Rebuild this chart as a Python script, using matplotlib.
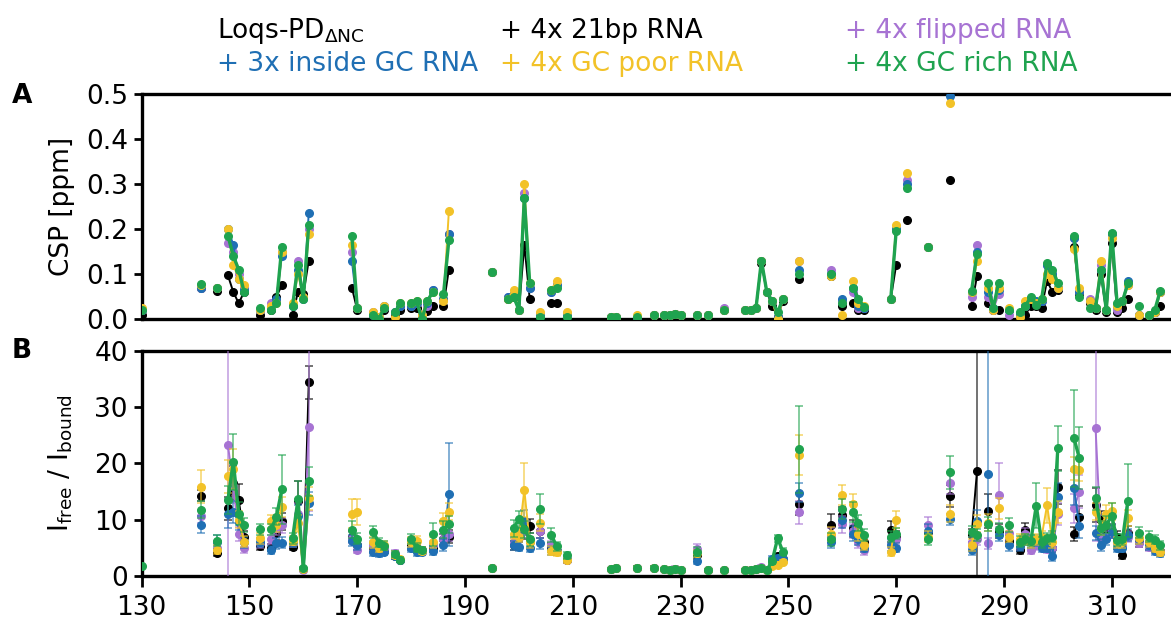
import numpy as np
import matplotlib
matplotlib.use("Agg")
import matplotlib.pyplot as plt
from matplotlib.colors import to_rgba

nan = np.nan

# Series names and colours (black, purple, blue, yellow, green)
names = ["+ 4x 21bp RNA", "+ 4x flipped RNA", "+ 3x inside GC RNA",
         "+ 4x GC poor RNA", "+ 4x GC rich RNA"]
colors = ["#000000", "#a773d3", "#1f6fb4", "#f2c228", "#1fa34f"]

# Panel A: chemical shift perturbation per residue
csp_res = [130, 141, 144, 146, 147, 148, 149, 152, 154, 155,
           156, 158, 159, 160, 161, 169, 170, 173, 174, 175,
           177, 178, 180, 181, 182, 183, 184, 186, 187, 195,
           198, 199, 200, 201, 202, 204, 206, 207, 209, 217,
           218, 222, 225, 227, 228, 229, 230, 233, 235, 238,
           242, 243, 244, 245, 246, 247, 248, 249, 252, 258,
           260, 262, 263, 264, 269, 270, 272, 276, 280, 284,
           285, 287, 288, 289, 291, 293, 294, 295, 296, 297,
           298, 299, 300, 303, 304, 306, 307, 308, 309, 310,
           311, 312, 313, 315, 317, 318, 319]

csp_black = [.010, .070, .062, .097, .060, .035, .060, .010, .020, .050,
             .075, .010, .060, .055, .130, .070, .020, .010, .000, .020,
             .010, .020, .025, .025, .005, .018, .030, .030, .110, .105,
             .045, .050, .020, .165, .045, .010, .035, .035, .005, .005,
             .005, .005, .010, .010, .010, .012, .010, .010, .010, .020,
             .020, .020, .025, .125, .060, .030, .005, .040, .090, .095,
             .030, .036, .020, .020, .045, .120, .220, .160, .310, .030,
             .095, .036, .020, .020, .020, .010, .010, .030, .030, .025,
             .085, .060, .065, .160, .055, .035, .020, .100, .015, .170,
             .015, .025, .045, .005, .005, .015, .030]
csp_purple = [.020, .070, .068, .170, .150, .100, .070, .020, .035, .040,
              .150, .030, .130, .050, .200, .150, .025, .015, .005, .025,
              .015, .030, .030, .035, .010, .030, .065, .045, .190, .105,
              .050, .055, .020, .280, .070, .010, .060, .075, .010, .005,
              .005, .005, .010, .010, .010, .012, .010, .010, .010, .025,
              .020, .020, .025, .130, .060, .040, .005, .045, .130, .110,
              .040, .060, .025, .025, .045, .200, .310, .160, nan, .050,
              .165, .050, .020, .055, .010, .010, .030, .045, .035, .040,
              .120, .100, .070, .180, .060, .045, .025, .120, .020, .190,
              .020, .040, .075, .010, .010, .015, .060]
csp_blue = [.020, .068, .068, .200, .165, .090, .065, .020, .025, .045,
            .140, .030, .110, .045, .235, .130, .025, .010, .005, .030,
            .015, .030, .030, .035, .010, .035, .065, .045, .190, .105,
            .050, .055, .020, .270, .070, .010, .060, .075, .010, .005,
            .005, .005, .010, .010, .010, .012, .010, .010, .010, .020,
            .020, .020, .025, .130, .060, .040, .005, .045, .110, .100,
            .045, .070, .030, .025, .045, .200, .300, .160, .495, .060,
            .150, .060, .025, .065, .020, .010, .030, .045, .040, .040,
            .120, .100, .070, .180, .060, .040, .025, .110, .020, .190,
            .030, .040, .085, .010, .010, .015, .060]
csp_yellow = [.025, .075, .070, .200, .120, .090, .075, .020, .030, .035,
              .150, .035, .100, .050, .190, .165, .025, .015, .005, .030,
              .005, .035, .035, .040, .010, .040, .060, .040, .240, .105,
              .045, .065, .020, .300, .080, .015, .065, .085, .015, .005,
              .005, .010, .010, .010, .010, .012, .010, .010, .010, .020,
              .020, .020, .025, .130, .060, .040, .000, .045, .130, .095,
              .010, .085, .035, .030, .045, .210, .325, .160, .480, .060,
              .130, .070, .020, .070, .025, .005, .040, .045, .035, .045,
              .100, .090, .070, .155, .070, .040, .025, .130, .020, .180,
              .030, .040, .075, .010, .010, .015, .060]
csp_green = [.020, .077, .070, .185, .140, .110, .060, .025, .020, .035,
             .160, .030, .120, .045, .210, .185, .025, .010, .000, .025,
             .015, .035, .035, .040, .000, .040, .060, .055, .175, .105,
             .045, .050, .020, .270, .080, .005, .065, .070, .005, .005,
             .005, .005, .010, .010, .010, .012, .010, .010, .010, .020,
             .020, .020, .025, .130, .060, .040, .015, .045, .100, .100,
             .035, .070, .045, .027, .045, .195, .292, .160, nan, .063,
             .145, .080, .024, .080, .020, .015, .029, .050, .031, .045,
             .125, .110, .080, .185, .050, .025, .025, .110, .020, .192,
             .035, .040, .079, .030, .010, .020, .063]

# Panel B: intensity ratio I_free / I_bound per residue
int_res = [130, 141, 144, 146, 147, 148, 149, 152, 154, 155,
           156, 158, 159, 160, 161, 169, 170, 173, 174, 175,
           177, 178, 180, 181, 182, 184, 186, 187, 195, 199,
           200, 201, 202, 204, 206, 207, 209, 217, 218, 222,
           225, 227, 228, 229, 230, 233, 235, 238, 242, 243,
           244, 245, 246, 247, 248, 249, 252, 258, 260, 262,
           263, 264, 269, 270, 276, 280, 284, 285, 287, 289,
           291, 293, 294, 295, 296, 297, 298, 299, 300, 303,
           304, 307, 308, 309, 310, 311, 312, 313, 315, 317,
           318, 319]

ratio_black = [nan, 14.3, 4.0, 12.0, 16.5, 13.5, 7.0, 5.3, 5.0, 7.6,
               9.7, 5.2, 13.4, 1.2, 34.4, 7.0, 5.5, 5.0, 4.5, 4.5,
               3.6, 2.8, 5.5, 5.0, 4.6, 5.0, 6.5, 7.0, 1.4, 5.5,
               7.0, 8.0, 8.9, 8.0, 5.0, 4.5, 2.8, 1.2, 1.5, 1.5,
               1.5, 1.3, 1.1, 1.2, 1.0, 3.8, 1.0, 1.1, 1.1, 1.1,
               1.2, 1.4, 1.0, 2.0, 3.5, 3.0, 12.8, 9.1, 10.8, 8.5,
               7.5, 6.0, 8.2, 7.0, 7.8, 14.2, 7.2, 18.6, 11.6, 8.0,
               6.3, 4.7, 8.2, 6.0, 6.0, 6.0, 6.0, 5.0, 15.8, 7.5,
               10.5, 12.6, 10.0, 8.0, 8.0, 7.0, 3.7, 7.7, 6.0, 5.5,
               5.0, 4.5]
ratio_purple = [nan, 10.6, 5.0, 23.3, 16.0, 7.5, 4.9, 5.8, 6.5, 8.5,
                9.0, 6.0, 11.0, 1.0, 26.5, 6.8, 4.7, 5.5, 4.5, 4.8,
                4.0, 2.8, 6.0, 5.0, 4.6, 5.5, 6.5, 7.5, 1.4, 6.0,
                7.0, 8.0, 6.0, 8.0, 5.5, 4.5, 2.8, 1.2, 1.5, 1.5,
                1.5, 1.3, 1.1, 1.2, 1.0, 4.8, 1.0, 1.1, 1.1, 1.1,
                1.2, 1.6, 1.0, 2.2, 3.0, 3.0, 11.3, 7.0, 9.2, 8.0,
                6.0, 4.6, 6.0, 6.5, 9.1, 16.5, 6.0, 6.5, 5.8, 14.4,
                7.6, 5.5, 7.5, 4.7, 5.5, 5.5, 4.8, 5.0, 11.0, 12.0,
                15.0, 26.3, 6.5, 7.0, 8.0, 5.8, 5.5, 7.0, 5.9, 5.2,
                4.8, 4.3]
ratio_blue = [nan, 9.1, 6.0, 11.1, 11.4, 9.6, 6.0, 6.0, 4.6, 5.8,
              5.9, 6.0, 10.7, 1.2, 12.9, 6.3, 5.5, 4.3, 4.0, 4.3,
              3.5, 2.8, 5.0, 4.3, 4.3, 4.5, 5.5, 14.5, 1.4, 5.5,
              5.2, 9.8, 5.0, 5.8, 4.6, 4.5, 3.0, 1.2, 1.5, 1.5,
              1.5, 1.3, 1.1, 1.2, 1.0, 2.7, 1.0, 1.1, 1.1, 1.1,
              1.2, 1.4, 1.0, 3.0, 3.2, 3.0, 14.8, 6.0, 10.0, 7.5,
              6.5, 5.0, 5.5, 5.0, 8.0, 10.1, 4.6, 9.7, 18.1, 7.3,
              5.5, 5.3, 6.5, 6.0, 6.3, 5.0, 5.0, 3.5, 14.1, 15.6,
              8.8, 7.6, 5.5, 6.5, 7.9, 5.0, 5.0, 7.3, 6.5, 5.5,
              4.5, 4.0]
ratio_yellow = [nan, 15.9, 4.7, 17.7, 19.0, 10.0, 6.1, 6.7, 9.7, 9.0,
                12.3, 6.3, 9.4, 1.2, 13.8, 11.1, 11.4, 6.0, 5.0, 5.5,
                3.8, 3.0, 6.0, 6.2, 4.5, 6.0, 9.7, 11.4, 1.4, 7.5,
                7.0, 15.3, 6.0, 9.5, 4.5, 4.3, 2.8, 1.2, 1.5, 1.5,
                1.5, 1.3, 1.1, 1.2, 1.0, 4.0, 1.0, 1.1, 1.1, 1.1,
                1.2, 1.4, 1.0, 1.8, 2.0, 2.5, 21.5, 7.5, 14.4, 12.8,
                7.5, 5.5, 4.3, 10.0, 7.0, 11.1, 5.5, 9.3, 9.5, 12.0,
                7.0, 6.5, 6.5, 6.0, 6.5, 7.0, 12.6, 6.0, 11.4, 19.1,
                18.8, 11.4, 8.5, 11.1, 11.5, 6.0, 6.0, 10.3, 6.7, 6.1,
                4.9, 4.3]
ratio_green = [1.8, 11.8, 6.3, 13.5, 20.3, 11.1, 9.1, 8.3, 8.3, 10.5,
               15.4, 6.7, 13.6, 1.4, 16.8, 8.2, 6.6, 7.8, 5.9, 5.4,
               3.9, 2.9, 6.6, 5.0, 4.6, 7.4, 8.2, 9.2, 1.4, 8.5,
               10.1, 8.3, 6.5, 11.9, 7.3, 5.3, 3.7, 1.2, 1.5, 1.5,
               1.5, 1.3, 1.1, 1.2, 1.0, 4.3, 1.0, 1.1, 1.1, 1.1,
               1.2, 1.4, 1.0, 2.7, 6.7, 4.3, 22.5, 6.5, 11.9, 11.4,
               9.4, 7.3, 7.0, 7.5, 6.5, 18.4, 7.9, 7.3, 9.2, 8.3,
               9.1, 6.1, 6.5, 6.3, 12.5, 6.0, 6.7, 7.0, 22.7, 24.5,
               20.9, 13.8, 8.5, 9.1, 10.7, 6.4, 6.5, 13.4, 7.7, 7.0,
               6.4, 5.5]

# Error bars of the intensity ratios
err_black = [nan, 1.0, 0.5, 2.0, 3.0, 2.8, 1.0, 0.6, 0.6, 1.2,
             1.5, 0.6, 3.5, 0.3, 3.0, 1.0, 0.8, 0.7, 0.6, 0.6,
             0.5, 0.4, 0.8, 0.7, 0.6, 0.8, 1.0, 1.2, 0.2, 0.8,
             1.0, 1.5, 1.2, 1.2, 0.8, 0.7, 0.5, 0.2, 0.2, 0.2,
             0.2, 0.2, 0.2, 0.2, 0.2, 0.8, 0.2, 0.2, 0.2, 0.2,
             0.2, 0.2, 0.2, 0.4, 0.6, 0.5, 2.0, 2.0, 1.5, 1.5,
             1.2, 1.0, 1.5, 1.0, 1.2, 2.0, 1.2, 30.0, 3.0, 1.2,
             1.0, 0.8, 1.2, 1.0, 1.0, 1.0, 1.0, 0.8, 3.0, 1.2,
             2.0, 3.0, 1.5, 1.2, 1.2, 1.0, 0.6, 1.2, 0.8, 0.8,
             0.7, 0.7]
err_purple = [nan, 1.2, 0.6, 25.0, 3.0, 1.2, 0.8, 0.8, 0.8, 1.2,
              1.3, 0.8, 2.0, 0.2, 15.0, 1.0, 0.7, 0.8, 0.6, 0.7,
              0.6, 0.4, 0.8, 0.7, 0.6, 0.8, 1.0, 1.2, 0.2, 0.8,
              1.0, 1.2, 1.0, 1.2, 0.8, 0.7, 0.5, 0.2, 0.2, 0.2,
              0.2, 0.2, 0.2, 0.6, 0.2, 0.8, 0.2, 0.2, 0.2, 0.2,
              0.2, 0.3, 0.2, 0.4, 0.5, 0.5, 2.0, 1.5, 1.5, 1.3,
              1.0, 0.8, 1.0, 1.0, 1.3, 2.0, 1.0, 1.0, 1.0, 5.7,
              1.2, 0.8, 1.0, 0.8, 0.8, 0.8, 0.8, 0.8, 2.0, 2.5,
              3.0, 20.0, 1.0, 1.0, 1.2, 1.0, 0.8, 1.0, 0.8, 0.8,
              0.7, 0.7]
err_blue = [nan, 1.5, 1.2, 2.5, 2.0, 1.5, 1.0, 0.8, 0.7, 1.0,
            1.0, 0.8, 2.0, 0.2, 2.0, 1.0, 0.8, 0.7, 0.6, 0.6,
            0.5, 0.4, 0.8, 0.7, 0.6, 0.8, 1.0, 9.2, 0.2, 0.8,
            0.8, 2.0, 0.8, 1.0, 0.8, 0.7, 0.5, 0.2, 0.2, 0.2,
            0.2, 0.2, 0.2, 0.2, 0.2, 0.6, 0.2, 0.2, 0.2, 0.2,
            0.2, 0.2, 0.2, 0.5, 0.5, 0.5, 1.7, 1.0, 1.5, 1.3,
            1.0, 0.8, 1.0, 0.8, 1.2, 1.0, 0.8, 2.0, 25.0, 1.0,
            1.0, 0.8, 1.0, 1.0, 1.0, 0.8, 0.8, 0.8, 2.5, 3.0,
            2.0, 1.2, 1.0, 1.0, 1.2, 0.8, 0.8, 1.0, 0.8, 0.8,
            0.7, 0.6]
err_yellow = [nan, 3.0, 0.8, 3.0, 3.5, 1.5, 1.0, 1.0, 1.2, 1.2,
              1.8, 0.8, 1.5, 0.2, 2.0, 2.5, 2.3, 1.0, 0.8, 0.8,
              0.6, 0.4, 0.9, 0.9, 0.6, 1.0, 1.5, 1.5, 0.2, 1.0,
              1.0, 4.8, 1.0, 1.5, 0.8, 0.7, 0.5, 0.2, 0.2, 0.2,
              0.2, 0.2, 0.2, 0.2, 0.2, 0.6, 0.2, 0.2, 0.2, 0.2,
              0.2, 0.2, 0.2, 0.4, 0.4, 0.4, 3.5, 1.2, 1.7, 1.8,
              1.2, 0.9, 0.8, 1.5, 1.0, 1.5, 1.0, 1.5, 1.5, 1.8,
              1.0, 1.0, 1.0, 1.0, 1.0, 1.0, 3.1, 1.0, 2.0, 2.0,
              2.0, 1.5, 1.2, 1.5, 1.5, 1.0, 1.0, 1.5, 1.0, 1.0,
              0.7, 0.7]
err_green = [0.2, 1.5, 1.0, 2.5, 5.0, 2.0, 1.2, 1.0, 1.0, 1.5,
             6.1, 1.0, 3.3, 0.2, 2.5, 1.5, 1.0, 1.0, 0.8, 0.8,
             0.6, 0.4, 0.9, 0.8, 0.6, 2.0, 1.5, 1.5, 0.2, 1.5,
             1.5, 1.5, 1.2, 2.6, 1.2, 0.8, 0.6, 0.2, 0.2, 0.2,
             0.2, 0.2, 0.2, 0.2, 0.2, 0.8, 0.2, 0.2, 0.2, 0.2,
             0.2, 0.2, 0.2, 0.5, 0.6, 0.6, 7.8, 1.2, 1.8, 1.8,
             1.4, 1.0, 1.0, 1.0, 1.0, 3.0, 1.0, 1.0, 1.2, 1.2,
             1.2, 1.0, 1.0, 1.0, 4.0, 1.0, 1.0, 1.0, 4.0, 8.6,
             5.5, 2.0, 1.2, 1.5, 2.3, 1.0, 1.0, 6.5, 1.0, 1.0,
             0.8, 0.8]

x_ticks = [130, 150, 170, 190, 210, 230, 250, 270, 290, 310]


# Insert NaN between non-consecutive residues so lines only join neighbours
def with_gaps(res, *cols):
    res = np.asarray(res, dtype=float)
    out_x, out_cols = [], [[] for _ in cols]
    for i, r in enumerate(res):
        if i > 0 and r - res[i - 1] > 1:
            out_x.append(nan)
            for c in out_cols:
                c.append(nan)
        out_x.append(r)
        for c, src in zip(out_cols, cols):
            c.append(src[i])
    return [np.array(out_x)] + [np.array(c) for c in out_cols]


def style_axes(ax):
    for side in ["left", "bottom", "top"]:
        ax.spines[side].set_linewidth(2.4)
    ax.spines["right"].set_visible(False)
    ax.tick_params(axis="y", direction="out", length=6, width=2, labelsize=19, pad=4)
    ax.set_xlim(130, 321)


plt.rcParams["font.family"] = "DejaVu Sans"
plt.rcParams["mathtext.default"] = "regular"

fig = plt.figure(figsize=(11.71, 6.21), dpi=100)
ax_a = fig.add_axes([0.121, 0.4863, 0.879, 0.3623])
ax_b = fig.add_axes([0.121, 0.0725, 0.879, 0.3623])

csp_series = [csp_black, csp_purple, csp_blue, csp_yellow, csp_green]
ratio_series = [ratio_black, ratio_purple, ratio_blue, ratio_yellow, ratio_green]
err_series = [err_black, err_purple, err_blue, err_yellow, err_green]

for i, (col, csp, ratio, err) in enumerate(zip(colors, csp_series, ratio_series, err_series)):
    lw = 2.4 if i == 4 else 1.4
    x, y = with_gaps(csp_res, csp)
    ax_a.plot(x, y, "-o", color=col, lw=lw, ms=5.5, zorder=3 + i)

    # error bars look a bit washed out in the original
    x, y, e = with_gaps(int_res, ratio, err)
    ax_b.errorbar(x, y, yerr=e, fmt="-o", color=col, ecolor=to_rgba(col, 0.7),
                  lw=lw, ms=5.5, elinewidth=1.1, capsize=3, capthick=1.1,
                  zorder=3 + i)

# Panel A
style_axes(ax_a)
ax_a.set_ylim(0, 0.5)
ax_a.set_yticks([0.0, 0.1, 0.2, 0.3, 0.4, 0.5])
ax_a.set_yticklabels(["0.0", "0.1", "0.2", "0.3", "0.4", "0.5"])
ax_a.set_xticks(x_ticks)
ax_a.tick_params(axis="x", length=0, labelbottom=False)
ax_a.set_ylabel("CSP [ppm]", fontsize=19, labelpad=8)

# Panel B
style_axes(ax_b)
ax_b.set_ylim(0, 40)
ax_b.set_yticks([0, 10, 20, 30, 40])
ax_b.set_xticks(x_ticks)
ax_b.tick_params(axis="x", direction="out", length=8, width=2, labelsize=19, pad=6)
ax_b.set_ylabel(r"I$_{free}$ / I$_{bound}$", fontsize=19, labelpad=14)

# Panel letters
fig.text(0.010, 0.845, "A", fontsize=19, fontweight="bold", va="center")
fig.text(0.010, 0.434, "B", fontsize=19, fontweight="bold", va="center")

# Coloured text legend
fig.text(0.185, 0.939, r"Loqs-PD$_{\Delta NC}$", fontsize=19, color=colors[0], va="baseline")
fig.text(0.427, 0.939, names[0], fontsize=19, color=colors[0], va="baseline")
fig.text(0.722, 0.939, names[1], fontsize=19, color=colors[1], va="baseline")
fig.text(0.185, 0.886, names[2], fontsize=19, color=colors[2], va="baseline")
fig.text(0.427, 0.886, names[3], fontsize=19, color=colors[3], va="baseline")
fig.text(0.722, 0.886, names[4], fontsize=19, color=colors[4], va="baseline")

fig.savefig("out.png", dpi=100)
